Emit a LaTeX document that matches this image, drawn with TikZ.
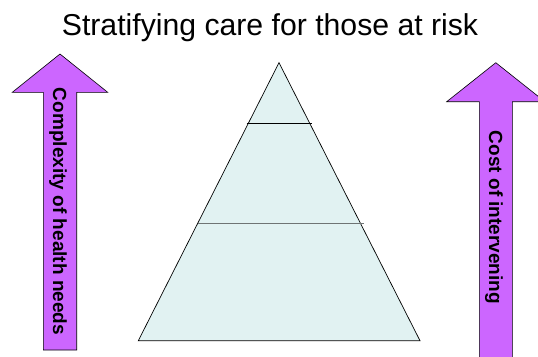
\documentclass[tikz,border=0pt]{standalone}
\usepackage{fontspec}
\setmainfont{Liberation Sans}
\definecolor{arrowfill}{HTML}{CC66FF}
\definecolor{pyrfill}{HTML}{E1F2F2}
\definecolor{midline}{HTML}{6E7474}
\begin{document}
\begin{tikzpicture}[x=1pt,y=-1pt,
  uparrow/.style={draw=black,line width=0.6pt,fill=arrowfill,line join=miter},
  arrowlabel/.style={font=\bfseries\fontsize{19}{20}\selectfont,rotate=-90,inner sep=0pt},
  pyramid/.style={draw=black,line width=0.7pt,fill=pyrfill},
  tier/.style={draw=black,line width=0.7pt}]
\clip (0,0) rectangle (538,356);
\useasboundingbox (0,0) rectangle (538,356);
\fill[white] (0,0) rectangle (538,356);
% title
\node[font=\fontsize{30.2}{32}\selectfont,anchor=base] (title) at (270,35.5) {Stratifying care for those at risk};
% left arrow
\draw[uparrow] (60,54) -- (107.7,92.3) -- (76.7,92.3) -- (76.7,350) -- (43.3,350) -- (43.3,92.3) -- (12.3,92.3) -- cycle;
\node[arrowlabel] (complexity) at (58,211.5) {Complexity of health needs};
% right arrow
\draw[uparrow] (495.8,62.7) -- (544.9,101.7) -- (512.3,101.7) -- (512.3,380) -- (479.3,380) -- (479.3,101.7) -- (446.7,101.7) -- cycle;
\node[arrowlabel] (cost) at (494,217.5) {Cost of intervening};
% pyramid
\draw[pyramid] (279,62.7) -- (420,340.7) -- (138.3,340.7) -- cycle;
\draw[tier] (246.7,123.3) -- (311.7,123.3);
\draw[tier,draw=midline,line width=1.1pt] (198.3,223.7) -- (364.3,223.7);
\end{tikzpicture}
\end{document}
